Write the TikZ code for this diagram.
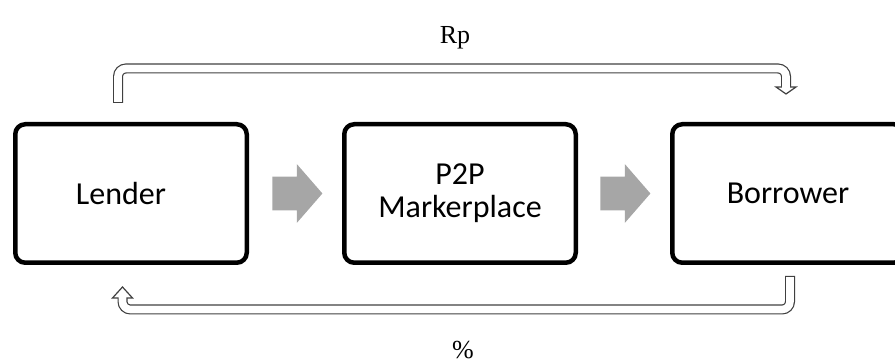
\documentclass[tikz,border=0pt]{standalone}
\usepackage{fontspec}
\setmainfont{Carlito}
\newfontfamily\timesfont{Liberation Serif}
\usepackage{tikz}
\usetikzlibrary{calc,shapes.arrows,positioning}

\definecolor{arrowgray}{RGB}{166,166,166}
\definecolor{linegray}{RGB}{64,64,64}

\tikzset{
  party/.style={draw, line width=2.25pt, rounded corners=5pt, minimum width=115.75pt,
    minimum height=69.25pt, align=center, inner sep=0pt,
    font=\fontsize{16}{16.5}\selectfont},
  flow/.style={single arrow, fill=arrowgray, draw=none, minimum height=25pt,
    inner xsep=0pt, inner ysep=8.25pt, single arrow head extend=6.25pt,
    single arrow tip angle=98, text height=0pt, text depth=0pt},
  payout/.style={line width=5pt, draw=linegray, rounded corners=4pt},
  payin/.style={line width=3.8pt, draw=white, rounded corners=4pt},
  payhead/.style={fill=white, draw=linegray, line width=0.6pt, line join=miter},
  money/.style={font=\timesfont\fontsize{13}{15}\selectfont, inner sep=0pt, anchor=base}
}

\begin{document}
\begin{tikzpicture}[x=0.5pt, y=-0.5pt]

    \useasboundingbox (0,0) rectangle (895,362);
    \clip (0,0) rectangle (895,362);

    \node[party] (lender)   at (131,193.5) {Lender\hspace*{10pt}};
    \node[party] (market)   at (460,193.5) {P2P\\Markerplace};
    \node[party] (borrower) at (788,193.5) {Borrower};

    \node[flow, right=11.5pt of lender] (flowA) {};
    \node[flow, right=11pt of market]   (flowB) {};

    % Rp: lender to borrower
    \coordinate (rpA) at ($(lender.north)+(-13,-19)$);
    \coordinate (rpB) at ($(borrower.north)+(-2,-35)$);
    \coordinate (rpC) at ($(borrower.north)+(-2,-33.5)$);
    \draw[payout] (rpA) -- ++(0,-34.5) -| (rpB);
    \filldraw[payhead] ($(rpB)+(-10,0)$) -- ($(borrower.north)+(-2,-28)$) -- ($(rpB)+(10,0)$) -- cycle;
    \draw[payin, shorten <=0.6pt] (rpA) -- ++(0,-34.5) -| (rpC);

    % %: borrower back to lender
    \coordinate (pcA) at ($(borrower.south)+(2,11)$);
    \coordinate (pcB) at ($(lender.south)+(-8.5,33)$);
    \coordinate (pcC) at ($(lender.south)+(-8.5,31.5)$);
    \draw[payout] (pcA) -- ++(0,33.5) -| (pcB);
    \filldraw[payhead] ($(pcB)+(-10,0)$) -- ($(lender.south)+(-8.5,22)$) -- ($(pcB)+(10,0)$) -- cycle;
    \draw[payin, shorten <=0.6pt] (pcA) -- ++(0,33.5) -| (pcC);

    \node[money] (rp)  at (455,44)  {Rp};
    \node[money] (pct) at (463,359) {\%};

\end{tikzpicture}
\end{document}
